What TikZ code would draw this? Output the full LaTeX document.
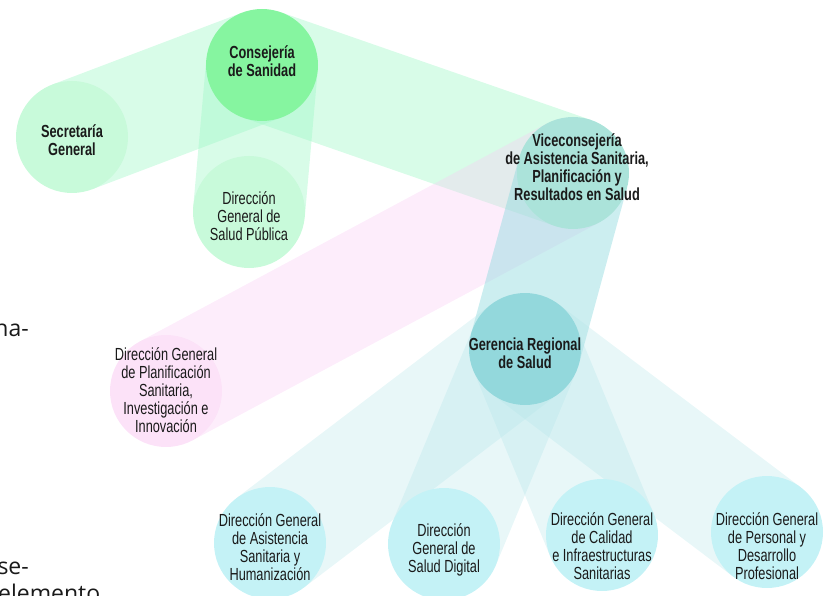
\documentclass[tikz,border=0pt]{standalone}
\usepackage{fontspec}
\setmainfont{Liberation Sans}[FakeStretch=0.73]
\newfontfamily\pagefont{Open Sans}
\usepackage{tikz}
\usetikzlibrary{positioning,backgrounds}

\definecolor{consgreen}{RGB}{134,245,160}
\definecolor{palegreen}{RGB}{200,250,218}
\definecolor{vicegreen}{RGB}{171,227,218}
\definecolor{palepink}{RGB}{252,226,248}
\definecolor{gerteal}{RGB}{147,216,220}
\definecolor{palecyan}{RGB}{196,242,246}
\definecolor{bandgreen}{RGB}{157,247,197}
\definecolor{bandpink}{RGB}{249,204,244}
\definecolor{bandteal}{RGB}{142,217,222}
\definecolor{bandcyan}{RGB}{178,228,232}
\definecolor{inktext}{RGB}{26,26,26}

% label set inside a circle without making it grow; #1 moves it up
\newcommand{\orglabel}[2][0pt]{\smash{\raisebox{#1}{\makebox[0pt]{\fontsize{17.5}{17.2}\selectfont
  \begin{tabular}{@{}c@{}}#2\end{tabular}}}}}

\begin{document}
\begin{tikzpicture}[x=1pt,y=-1pt,
  org/.style={circle,inner sep=0pt,minimum size=112pt,text=inktext},
  head/.style={org,font=\bfseries},
  band/.style={line width=112pt,line cap=butt},
  frag/.style={inner sep=0pt,text=inktext,font=\pagefont\fontsize{23}{27}\selectfont}]
  \useasboundingbox (0,0) rectangle (827,596);
  \clip (0,0) rectangle (827,596);

  % circles
  \node[head,fill=consgreen] (cons) at (262,65)  {\orglabel[-3pt]{Consejería\\de Sanidad}};
  \node[head,fill=palegreen] (sec)  at (72,137)  {\orglabel[-10pt]{Secretaría\\General}};
  \node[org,fill=palegreen]  (dgsp) at (249,212) {\orglabel[-11pt]{Dirección\\General de\\Salud Pública}};
  \node[head,fill=vicegreen] (vice) at (573,173) {\hspace{8pt}\orglabel[-1pt]{Viceconsejería\\de Asistencia Sanitaria,\\Planificación y\\Resultados en Salud}};
  \node[org,fill=palepink]   (dgpl) at (166,391) {\orglabel[-6pt]{Dirección General\\de Planificación\\Sanitaria,\\Investigación e\\Innovación}};
  \node[head,fill=gerteal]   (ger)  at (525,349) {\orglabel[-11pt]{Gerencia Regional\\de Salud}};
  \node[org,fill=palecyan]   (dgas) at (270,543) {\orglabel[-11pt]{Dirección General\\de Asistencia\\Sanitaria y\\Humanización}};
  \node[org,fill=palecyan]   (dgsd) at (444,544) {\orglabel[-11pt]{Dirección\\General de\\Salud Digital}};
  \node[org,fill=palecyan]   (dgci) at (602,535) {\orglabel[-18pt]{Dirección General\\de Calidad\\e Infraestructuras\\Sanitarias}};
  \node[org,fill=palecyan]   (dgpe) at (767,532) {\orglabel[-21pt]{Dirección General\\de Personal y\\Desarrollo\\Profesional}};

  % bands behind the circles
  \begin{scope}[on background layer]
    \foreach \x/\y in {cons/sec,cons/dgsp,cons/vice}
      \draw[band,draw=bandgreen,draw opacity=0.4] (\x.center)--(\y.center);
    \draw[band,draw=bandpink,draw opacity=0.35] (vice.center)--(dgpl.center);
    \draw[band,draw=bandteal,draw opacity=0.45] (vice.center)--(ger.center);
    \foreach \x/\y in {ger/dgas,ger/dgsd,ger/dgci,ger/dgpe}
      \draw[band,draw=bandcyan,draw opacity=0.3] (\x.center)--(\y.center);
  \end{scope}

  % page text cut by the frame
  \node[frag,anchor=base east] (na)  at (29,336)  {na-};
  \node[frag,anchor=base east] (se)  at (29,574)  {se-};
  \node[frag,anchor=base west] (elem) at (-2,601) {elemento};
\end{tikzpicture}
\end{document}
